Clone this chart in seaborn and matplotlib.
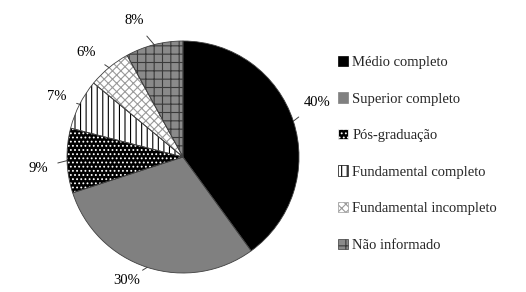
import matplotlib
matplotlib.use("Agg")
import matplotlib.pyplot as plt
import seaborn as sns
import numpy as np

categories = ["Médio completo", "Superior completo", "Pós-graduação",
              "Fundamental completo", "Fundamental incompleto", "Não informado"]
values = [40, 30, 9, 7, 6, 8]
pct_labels = ["40%", "30%", "9%", "7%", "6%", "8%"]

sns.set_theme(style="white")
plt.rcParams['font.family'] = ['Liberation Serif', 'DejaVu Serif']
plt.rcParams['hatch.linewidth'] = 0.8

faces = ["#000000", "#808080", "#000000", "#ffffff", "#ffffff", "#8a8a8a"]
hatches = [None, None, "....", "|||", "xxxx", "++"]
hatch_cols = ["#000000", "#808080", "#ffffff", "#000000", "#9a9a9a", "#3a3a3a"]

W, H = 526, 292
fig = plt.figure(figsize=(W / 100, H / 100), dpi=100)
cx, cy, r = 183, 157, 116
ax = fig.add_axes([(cx - r) / W, (H - cy - r) / H, 2 * r / W, 2 * r / H])

wedges, _ = ax.pie(values, startangle=90, counterclock=False, radius=1,
                   colors=faces, wedgeprops=dict(linewidth=0))
for w, h, hc in zip(wedges, hatches, hatch_cols):
    w.set_edgecolor(hc)
    if h:
        w.set_hatch(h)
# outlines
ax.pie(values, startangle=90, counterclock=False, radius=1,
       wedgeprops=dict(fill=False, edgecolor="#404040", linewidth=0.6))
ax.set_xlim(-1, 1)
ax.set_ylim(-1, 1)
ax.set_aspect("equal")
ax.axis("off")

# label layout (pixel positions of text centres)
text_px = [(317, 103), (127, 280), (38, 168), (57, 97), (86, 52), (134, 21)]
start = 90.0
total = sum(values)
for v, lab, (tx, ty) in zip(values, pct_labels, text_px):
    ang = start - v / total * 360 / 2
    start -= v / total * 360
    ex, ey = np.cos(np.radians(ang)), np.sin(np.radians(ang))
    txd, tyd = (tx - cx) / r, (cy - ty) / r
    ax.annotate(lab, xy=(ex, ey), xytext=(txd, tyd), ha="center", va="center",
                fontsize=10.5, color="#000000", annotation_clip=False,
                arrowprops=dict(arrowstyle="-", color="#404040", lw=0.7,
                                shrinkA=5, shrinkB=0))

leg = fig.legend(wedges, categories, loc="upper left",
                 bbox_to_anchor=(332 / W, 1 - 50 / H), frameon=False,
                 fontsize=10.5, handlelength=0.7, handleheight=0.7,
                 handletextpad=0.3, labelspacing=1.6, borderaxespad=0)
for p in leg.get_patches():
    p.set_linewidth(0.5)

fig.savefig("out.png", dpi=100, facecolor="white")
